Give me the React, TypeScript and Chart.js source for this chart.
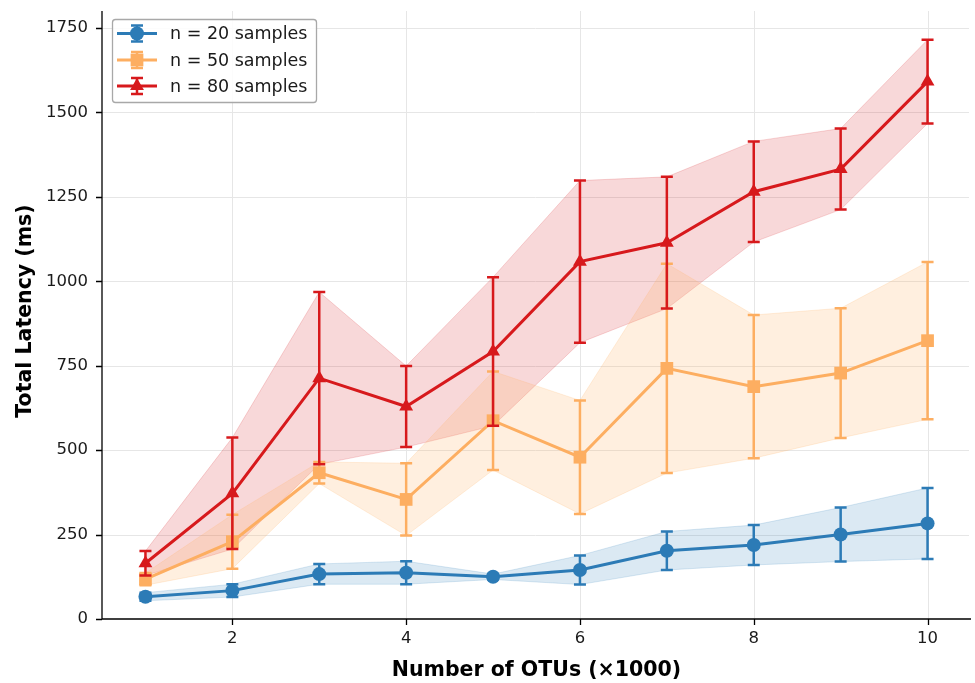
import React, { useEffect, useRef } from "react";
import { Chart, registerables } from "chart.js";

Chart.register(...registerables);

const xValues = [1, 2, 3, 4, 5, 6, 7, 8, 9, 10];
const xTicks = [2, 4, 6, 8, 10];
const yTicks = [0, 250, 500, 750, 1000, 1250, 1500, 1750];

const seriesLabels = ["n = 20 samples", "n = 50 samples", "n = 80 samples"];

const n20Mean = [66, 84, 133, 137, 125, 145, 202, 219, 250, 283];
const n20Err = [12, 19, 30, 34, 8, 43, 57, 59, 80, 105];

const n50Mean = [118, 229, 433, 354, 587, 479, 742, 688, 728, 824];
const n50Err = [18, 80, 32, 107, 146, 168, 310, 212, 192, 233];

const n80Mean = [165, 372, 713, 629, 792, 1058, 1114, 1265, 1332, 1591];
const n80Err = [36, 165, 255, 120, 220, 240, 195, 149, 120, 124];

const xTitle = "Number of OTUs (×1000)";
const yTitle = "Total Latency (ms)";

const FONT = '"DejaVu Sans", "Liberation Sans", sans-serif';
const COLORS = ["#2c7bb6", "#fdae61", "#d7191c"];
const RGB = ["44,123,182", "253,174,97", "215,25,28"];
const BAND_ALPHA = [0.17, 0.2, 0.17];
const POINT_STYLES = ["circle", "rect", "triangle"];
const POINT_RADII = [7, 9, 8];

const gridPlugin = {
  id: "mplGrid",
  beforeDatasetsDraw(chart: any) {
    const ctx = chart.ctx as CanvasRenderingContext2D;
    const a = chart.chartArea;
    const xs = chart.scales.x;
    const ys = chart.scales.y;
    ctx.save();
    ctx.strokeStyle = "#e6e6e6";
    ctx.lineWidth = 1;
    ctx.beginPath();
    xTicks.forEach((v) => {
      const px = Math.round(xs.getPixelForValue(v)) + 0.5;
      ctx.moveTo(px, a.top);
      ctx.lineTo(px, a.bottom);
    });
    yTicks.forEach((v) => {
      if (v === 0) return;
      const py = Math.round(ys.getPixelForValue(v)) + 0.5;
      ctx.moveTo(a.left, py);
      ctx.lineTo(a.right - 2, py);
    });
    ctx.stroke();
    ctx.restore();
  },
  afterDatasetsDraw(chart: any) {
    const ctx = chart.ctx as CanvasRenderingContext2D;
    const a = chart.chartArea;
    const xs = chart.scales.x;
    const ys = chart.scales.y;
    ctx.save();
    // mask anything stray along the right edge of the plot
    ctx.fillStyle = "#ffffff";
    ctx.fillRect(a.right - 1.5, 0, chart.width - a.right + 1.5, a.bottom - 1);
    ctx.strokeStyle = "#000";
    ctx.lineWidth = 1.3;
    ctx.beginPath();
    ctx.moveTo(a.left, a.top);
    ctx.lineTo(a.left, a.bottom);
    ctx.lineTo(a.right, a.bottom);
    xTicks.forEach((v) => {
      const px = Math.round(xs.getPixelForValue(v)) + 0.5;
      ctx.moveTo(px, a.bottom);
      ctx.lineTo(px, a.bottom + 6);
    });
    yTicks.forEach((v) => {
      const py = Math.round(ys.getPixelForValue(v)) + 0.5;
      ctx.moveTo(a.left, py);
      ctx.lineTo(a.left - 6, py);
    });
    ctx.stroke();
    ctx.restore();
  },
};

const errorBarPlugin = {
  id: "errorBars",
  beforeDatasetDraw(chart: any, args: any) {
    const ds = chart.data.datasets[args.index];
    if (!ds.errs) return;
    const yScale = chart.scales.y;
    const ctx = chart.ctx;
    ctx.save();
    ctx.strokeStyle = ds.borderColor;
    ctx.lineWidth = 2.5;
    args.meta.data.forEach((pt: any, i: number) => {
      const v = ds.data[i].y;
      const e = ds.errs[i];
      const x = pt.x;
      const yTop = yScale.getPixelForValue(v + e);
      const yBot = yScale.getPixelForValue(v - e);
      ctx.beginPath();
      ctx.moveTo(x, yTop);
      ctx.lineTo(x, yBot);
      ctx.moveTo(x - 6, yTop);
      ctx.lineTo(x + 6, yTop);
      ctx.moveTo(x - 6, yBot);
      ctx.lineTo(x + 6, yBot);
      ctx.stroke();
    });
    ctx.restore();
  },
};

function drawMarker(ctx: CanvasRenderingContext2D, style: string, r: number, x: number, y: number, color: string) {
  ctx.beginPath();
  if (style === "circle") {
    ctx.arc(x, y, r, 0, Math.PI * 2);
  } else if (style === "rect") {
    const s = r * Math.SQRT1_2;
    ctx.rect(x - s, y - s, 2 * s, 2 * s);
  } else {
    let a = 0;
    ctx.moveTo(x + Math.sin(a) * r, y - Math.cos(a) * r);
    a += (2 * Math.PI) / 3;
    ctx.lineTo(x + Math.sin(a) * r, y - Math.cos(a) * r);
    a += (2 * Math.PI) / 3;
    ctx.lineTo(x + Math.sin(a) * r, y - Math.cos(a) * r);
    ctx.closePath();
  }
  ctx.fillStyle = color;
  ctx.fill();
}

const decorPlugin = {
  id: "decor",
  afterDraw(chart: any) {
    const ctx = chart.ctx as CanvasRenderingContext2D;
    const area = chart.chartArea;
    ctx.save();
    ctx.fillStyle = "#000";
    ctx.font = `bold 20.5px ${FONT}`;
    ctx.textAlign = "center";
    ctx.textBaseline = "alphabetic";
    ctx.fillText(xTitle, (area.left + area.right) / 2, 676);
    ctx.save();
    ctx.translate(31, 311);
    ctx.rotate(-Math.PI / 2);
    ctx.fillText(yTitle, 0, 0);
    ctx.restore();

    // legend
    const bx = 112.5, by = 19.5, bw = 204, bh = 83;
    ctx.beginPath();
    if ((ctx as any).roundRect) (ctx as any).roundRect(bx, by, bw, bh, 3);
    else ctx.rect(bx, by, bw, bh);
    ctx.fillStyle = "rgba(255,255,255,0.85)";
    ctx.fill();
    ctx.strokeStyle = "#a8a8a8";
    ctx.lineWidth = 1.3;
    ctx.stroke();

    const rows = [33.5, 60, 86];
    ctx.font = `17.5px ${FONT}`;
    ctx.textAlign = "left";
    ctx.textBaseline = "middle";
    for (let i = 0; i < 3; i++) {
      const y = rows[i];
      const cx = 137;
      ctx.strokeStyle = COLORS[i];
      ctx.lineWidth = 3;
      ctx.beginPath();
      ctx.moveTo(117, y);
      ctx.lineTo(157, y);
      ctx.stroke();
      ctx.lineWidth = 2.5;
      ctx.beginPath();
      ctx.moveTo(cx, y - 8);
      ctx.lineTo(cx, y + 8);
      ctx.moveTo(cx - 6, y - 8);
      ctx.lineTo(cx + 6, y - 8);
      ctx.moveTo(cx - 6, y + 8);
      ctx.lineTo(cx + 6, y + 8);
      ctx.stroke();
      drawMarker(ctx, POINT_STYLES[i], POINT_RADII[i], cx, y, COLORS[i]);
      ctx.fillStyle = "#1a1a1a";
      ctx.fillText(seriesLabels[i], 170, y + 1);
    }
    ctx.restore();
  },
};

export default function App() {
  const canvasRef = useRef<HTMLCanvasElement | null>(null);

  useEffect(() => {
    const canvas = canvasRef.current;
    if (!canvas) return;
    const means = [n20Mean, n50Mean, n80Mean];
    const errs = [n20Err, n50Err, n80Err];

    const datasets: any[] = [];
    for (let s = 0; s < 3; s++) {
      const lower = xValues.map((x, i) => ({ x, y: means[s][i] - errs[s][i] }));
      const upper = xValues.map((x, i) => ({ x, y: means[s][i] + errs[s][i] }));
      datasets.push({
        label: "band-low-" + s,
        data: lower,
        borderColor: `rgba(${RGB[s]},${BAND_ALPHA[s]})`,
        borderWidth: 1,
        pointRadius: 0,
        fill: false,
        order: 10 + s,
      });
      datasets.push({
        label: "band-high-" + s,
        data: upper,
        borderColor: `rgba(${RGB[s]},${BAND_ALPHA[s]})`,
        backgroundColor: `rgba(${RGB[s]},${BAND_ALPHA[s]})`,
        borderWidth: 1,
        pointRadius: 0,
        fill: "-1",
        order: 10 + s,
      });
    }
    for (let s = 0; s < 3; s++) {
      datasets.push({
        label: seriesLabels[s],
        data: xValues.map((x, i) => ({ x, y: means[s][i] })),
        errs: errs[s],
        borderColor: COLORS[s],
        backgroundColor: COLORS[s],
        borderWidth: 3,
        pointStyle: POINT_STYLES[s],
        pointRadius: POINT_RADII[s],
        pointBorderWidth: 0,
        pointBackgroundColor: COLORS[s],
        fill: false,
        order: 3 - s,
      });
    }

    const tickFont = { family: FONT, size: 16.5 };

    const chart = new Chart(canvas, {
      type: "line",
      data: { datasets },
      options: {
        animation: false,
        responsive: false,
        maintainAspectRatio: false,
        layout: { autoPadding: false, padding: { top: 11, right: 4, left: 0, bottom: 0 } },
        plugins: {
          legend: { display: false },
          tooltip: { enabled: false },
          title: { display: false },
        },
        scales: {
          x: {
            type: "linear",
            min: 0.5,
            max: 10.5,
            afterBuildTicks: (s: any) => {
              s.ticks = xTicks.map((v) => ({ value: v }));
            },
            afterFit: (s: any) => {
              s.height = 64;
              s.paddingLeft = 0;
              s.paddingRight = 0;
            },
            grid: { display: false, drawTicks: false, tickLength: 6 },
            border: { display: false },
            ticks: {
              font: tickFont,
              color: "#1a1a1a",
              padding: 10,
              maxRotation: 0,
              autoSkip: false,
              callback: (v: any) => String(v),
            },
          },
          y: {
            type: "linear",
            min: 0,
            max: 1800,
            afterBuildTicks: (s: any) => {
              s.ticks = yTicks.map((v) => ({ value: v }));
            },
            afterFit: (s: any) => {
              s.width = 102;
              s.paddingTop = 0;
              s.paddingBottom = 0;
            },
            grid: { display: false, drawTicks: false, tickLength: 6 },
            border: { display: false },
            ticks: {
              font: tickFont,
              color: "#1a1a1a",
              padding: 14,
              autoSkip: false,
              callback: (v: any) => String(v),
            },
          },
        },
      } as any,
      plugins: [gridPlugin, errorBarPlugin, decorPlugin],
    });

    return () => chart.destroy();
  }, []);

  return (
    <div style={{ position: "fixed", left: 0, top: 0, width: 975, height: 683, background: "#fff" }}>
      <canvas ref={canvasRef} width={975} height={683} style={{ width: 975, height: 683, display: "block" }} />
    </div>
  );
}
